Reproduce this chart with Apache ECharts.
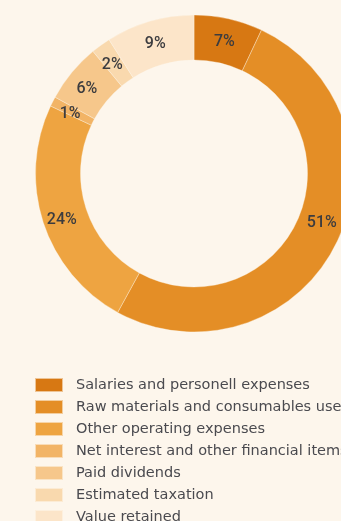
<!DOCTYPE html>
<html>
<head>
<meta charset="utf-8">
<script src="https://cdn.jsdelivr.net/npm/echarts@6/dist/echarts.min.js"></script>
<style>
  html, body { margin: 0; padding: 0; background: #fdf6ec; }
  #chart { width: 341px; height: 521px; }
</style>
</head>
<body>
<div id="chart"></div>
<script>
// value distribution, clockwise from 12 o'clock
const categories = [
  'Salaries and personell expenses',
  'Raw materials and consumables used',
  'Other operating expenses',
  'Net interest and other financial items',
  'Paid dividends',
  'Estimated taxation',
  'Value retained'
]
const shares = [7, 51, 24, 1, 6, 2, 9]
const colors = ['#d77813', '#e48e26', '#eea441', '#f2b466', '#f6c78b', '#f9d9ae', '#fce5c9']

const chart = echarts.init(document.getElementById('chart'))

const option = {
  backgroundColor: '#fdf6ec',
  animation: false,
  color: colors,
  legend: {
    orient: 'vertical',
    left: 34,
    top: 377,
    height: 200,
    padding: 0,
    itemWidth: 28,
    itemHeight: 14,
    itemGap: 6,
    icon: 'rect',
    selectedMode: false,
    textStyle: {
      fontFamily: 'DejaVu Sans',
      fontSize: 14.5,
      lineHeight: 14,
      color: '#4a4a4f',
      padding: [2, 0, 0, 8]
    },
    data: categories
  },
  series: [
    {
      type: 'pie',
      center: [194, 173.5],
      radius: [113.5, 158.5],
      startAngle: 90,
      clockwise: true,
      avoidLabelOverlap: false,
      itemStyle: {
        borderColor: 'rgba(253,246,236,0.6)',
        borderWidth: 0.6
      },
      label: {
        position: 'inside',
        formatter: '{c}%',
        fontFamily: 'Roboto',
        fontWeight: 500,
        fontSize: 16,
        color: '#3c3c3f',
        offset: [0, 4]
      },
      labelLine: { show: false },
      emphasis: { disabled: true },
      data: categories.map((name, i) => {
        const item = { name: name, value: shares[i] }
        // the big slice's label sits higher, near the right edge
        if (i === 1) item.label = { offset: [4, -14] }
        return item
      })
    }
  ]
}

chart.setOption(option)
</script>
</body>
</html>
